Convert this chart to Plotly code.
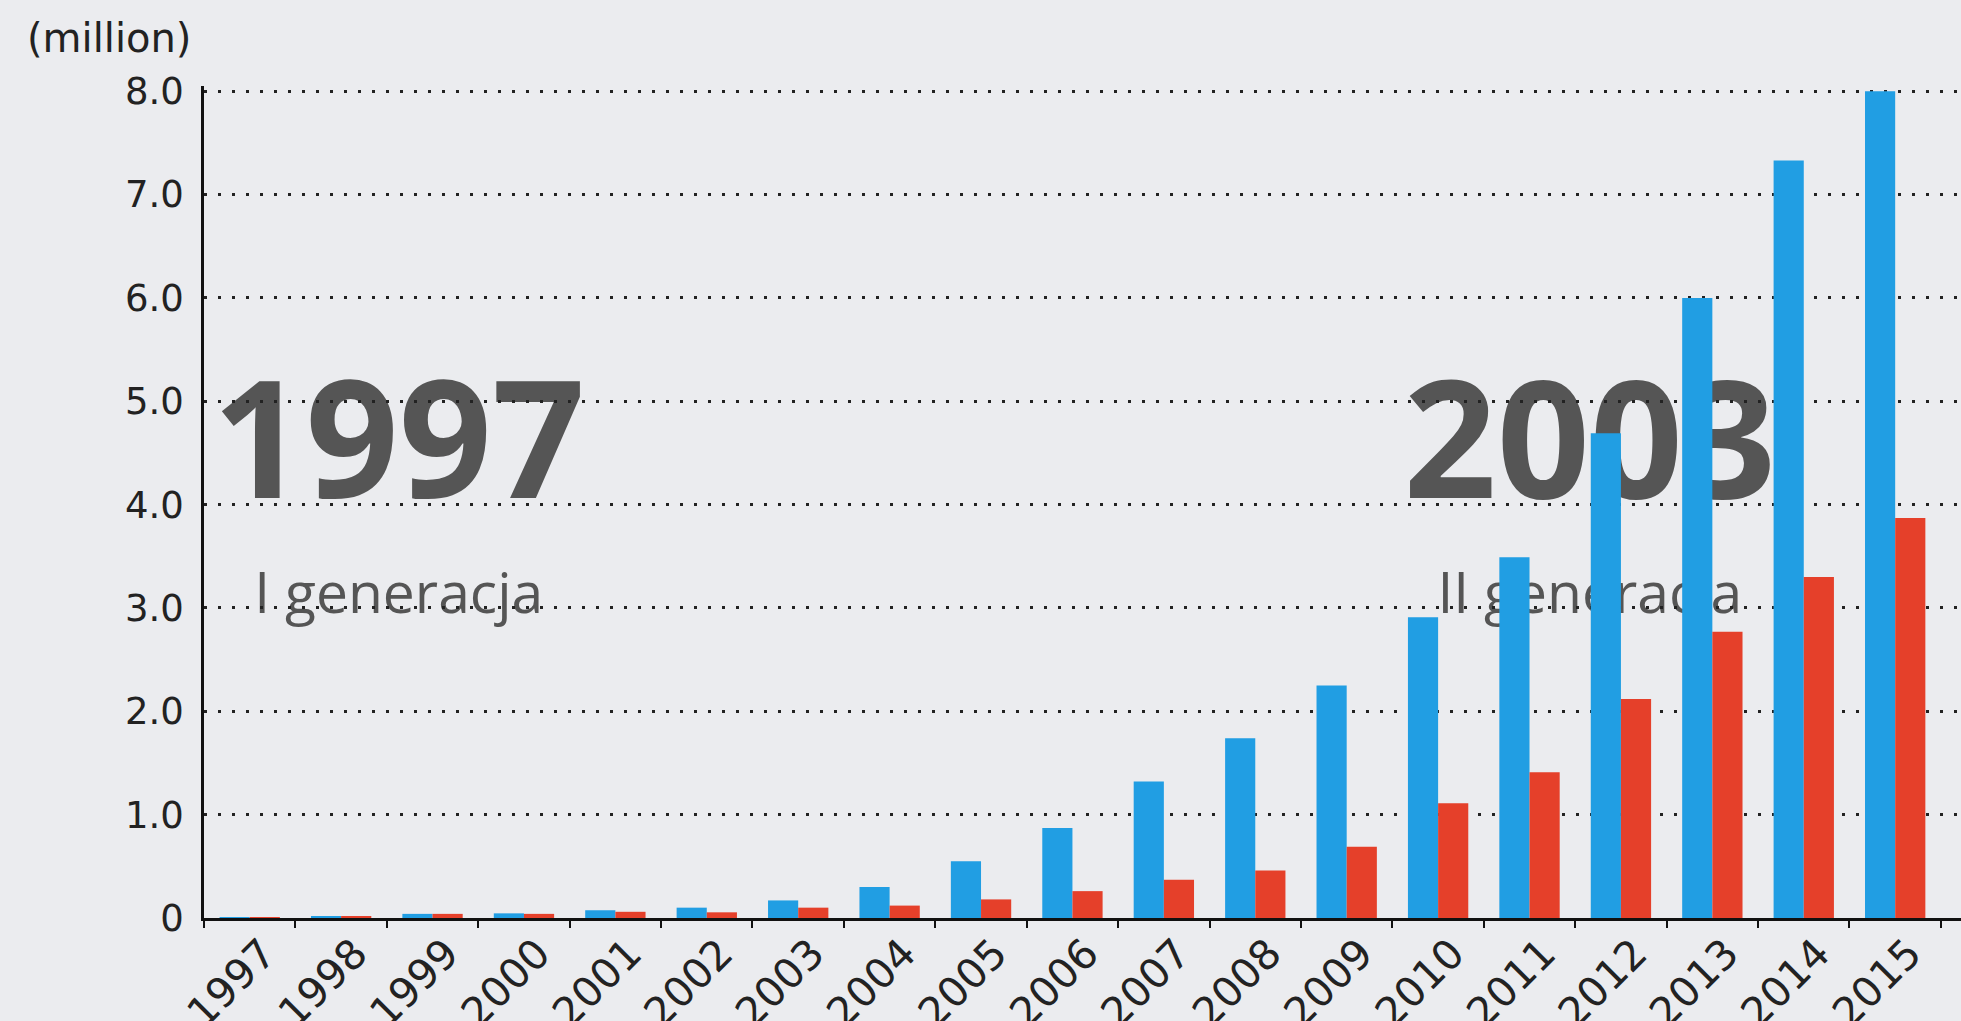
import plotly.graph_objects as go

years = ["1997", "1998", "1999", "2000", "2001", "2002", "2003", "2004", "2005", "2006",
         "2007", "2008", "2009", "2010", "2011", "2012", "2013", "2014", "2015"]
series_blue = [0.005, 0.015, 0.04, 0.045, 0.075, 0.10, 0.17, 0.30, 0.55, 0.87,
               1.32, 1.74, 2.25, 2.91, 3.49, 4.69, 6.00, 7.33, 8.00]
series_red = [0.004, 0.01, 0.04, 0.04, 0.06, 0.055, 0.10, 0.12, 0.18, 0.26,
              0.37, 0.46, 0.69, 1.11, 1.41, 2.12, 2.77, 3.30, 3.87]
y_ticks = [0, 1, 2, 3, 4, 5, 6, 7, 8]
y_tick_labels = ["0", "1.0", "2.0", "3.0", "4.0", "5.0", "6.0", "7.0", "8.0"]
overlay_years = ["1997", "2003"]
overlay_generations = ["I generacja", "II generacja"]

BG = "#ebecef"
TEXT_GRAY = "#555555"

fig = go.Figure()
fig.add_trace(go.Bar(x=years, y=series_blue, marker=dict(color="#219ee3", line=dict(width=0)),
                     showlegend=False, hoverinfo="x+y"))
fig.add_trace(go.Bar(x=years, y=series_red, marker=dict(color="#e5402a", line=dict(width=0)),
                     showlegend=False, hoverinfo="x+y"))

# big overlay labels drawn below gridlines and bars
centers_x = [1.63, 14.66]
for cx, big, small in zip(centers_x, overlay_years, overlay_generations):
    fig.add_shape(type="rect", xref="x", yref="y", x0=cx - 0.2, x1=cx + 0.2, y0=4.37, y1=4.77,
                  line=dict(width=0), fillcolor="rgba(0,0,0,0)", layer="below",
                  label=dict(text=big, textposition="middle center",
                             font=dict(family="Open Sans", size=163, color=TEXT_GRAY, weight=700)))
    fig.add_shape(type="rect", xref="x", yref="y", x0=cx - 0.2, x1=cx + 0.2, y0=2.98, y1=3.28,
                  line=dict(width=0), fillcolor="rgba(0,0,0,0)", layer="below",
                  label=dict(text=small, textposition="middle center",
                             font=dict(family="Open Sans", size=57, color=TEXT_GRAY)))

fig.add_annotation(text="(million)", xref="paper", yref="paper", x=-0.054, y=1.058,
                   xanchor="center", yanchor="middle", showarrow=False,
                   font=dict(family="DejaVu Sans", size=40, color="#222222"))

fig.update_layout(
    width=1961, height=1021,
    margin=dict(l=204, r=0, t=86, b=103),
    paper_bgcolor=BG, plot_bgcolor="rgba(0,0,0,0)",
    barmode="group", bargap=0.34, bargroupgap=0,
    font=dict(family="DejaVu Sans", color="#222222"),
    xaxis=dict(type="category", range=[-0.5, 18.72], showgrid=False, zeroline=False,
               showline=True, linecolor="#111111", linewidth=2.5, automargin=False,
               ticks="outside", tickson="boundaries", ticklen=7, tickwidth=2, tickcolor="#111111",
               tickangle=-45, ticklabelshift=14, ticklabelstandoff=-8,
               tickfont=dict(family="DejaVu Sans", size=41, color="#222222")),
    yaxis=dict(range=[0, 8.05], tickvals=y_ticks, ticktext=y_tick_labels,
               showgrid=True, gridcolor="#222222", gridwidth=2.5, griddash="3px,11px",
               zeroline=False, showline=True, linecolor="#111111", linewidth=2.5,
               ticks="", ticklabelstandoff=10, automargin=False,
               tickfont=dict(family="DejaVu Sans", size=37, color="#222222")),
)

fig.write_html("out.html", config={"displayModeBar": False},
               post_script="document.body.style.margin='0';document.body.style.padding='0';"
                           "document.body.style.overflow='hidden';")
